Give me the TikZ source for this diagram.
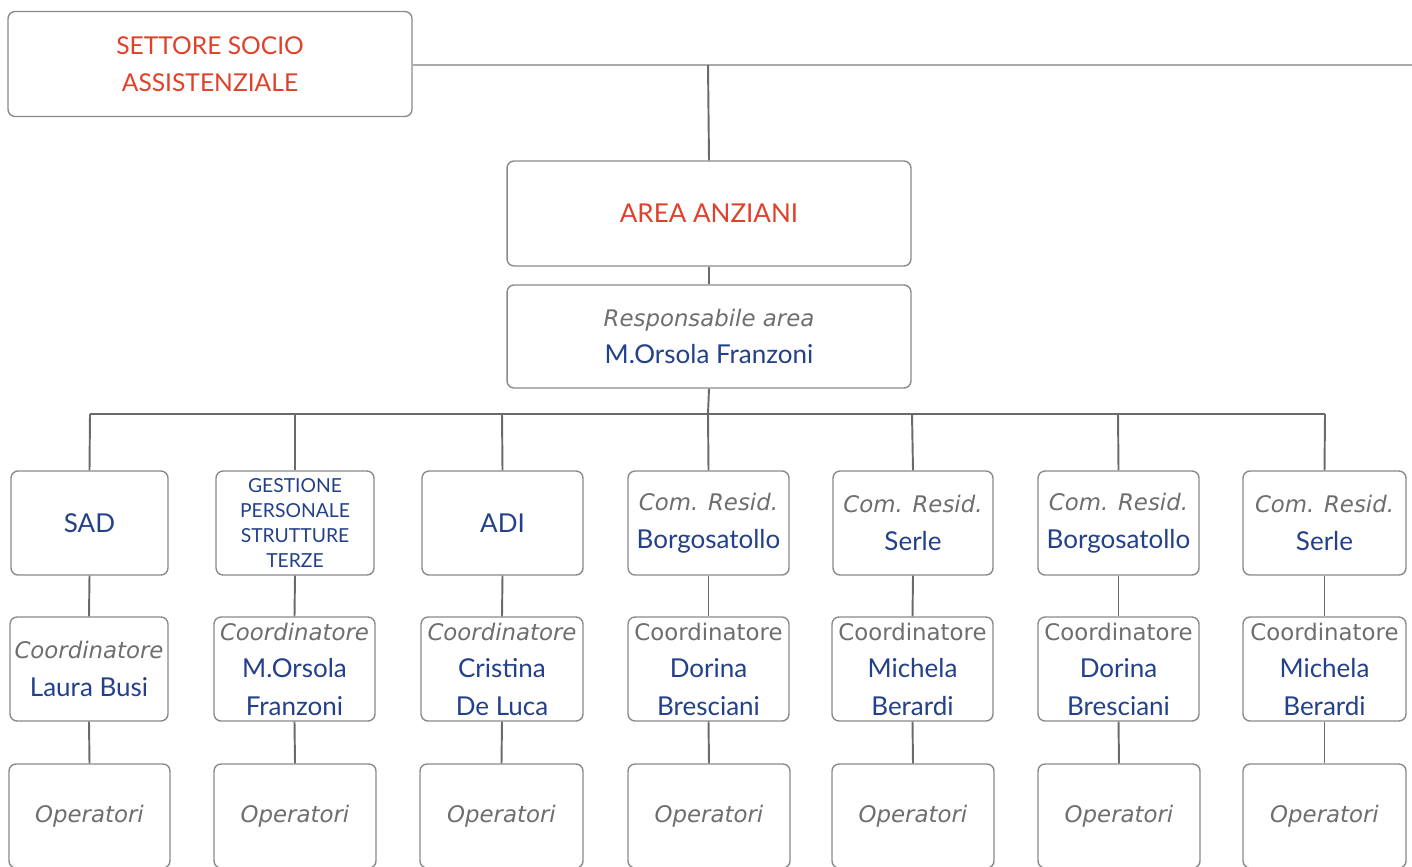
\documentclass[tikz,border=0pt]{standalone}
\usepackage{fontspec}
\setmainfont{Lato}
\newfontfamily\lbl{Lato}
\newfontfamily\gry{DejaVu Sans}
\definecolor{redc}{HTML}{E0412A}
\definecolor{bluec}{HTML}{23408A}
\definecolor{grayc}{HTML}{6E6E6E}
\definecolor{borderc}{HTML}{8A8A8A}
\definecolor{linec}{HTML}{6A6A6A}
\definecolor{toplinec}{HTML}{ABABAB}
\newcommand{\gi}[1]{{\color{grayc}\gry\itshape\fontsize{13}{21.3}\selectfont #1}}
\newcommand{\gu}[1]{{\color{grayc}\gry\fontsize{13}{21.3}\selectfont #1}}
\newcommand{\bl}[1]{{\color{bluec}\lbl\fontsize{14.8}{21.3}\selectfont #1}}
\tikzset{
  box/.style={draw=borderc, rounded corners=4pt, line width=0.8pt, fill=white,
    minimum width=3.2cm, minimum height=2.08cm, align=center, inner sep=0pt,
    font=\fontsize{14.8}{21.3}\selectfont},
  bigbox/.style={box, minimum width=8.08cm, minimum height=2.1cm},
  redtxt/.style={text=redc, font=\lbl\fontsize{14}{21.3}\selectfont},
  conn/.style={draw=linec, line width=1.1pt},
  topconn/.style={draw=toplinec, line width=1.2pt},
}
\begin{document}
\begin{tikzpicture}[x=0.02cm, y=-0.02cm]
\useasboundingbox (0,0) rectangle (1412,866);
\clip (0,0) rectangle (1412,866);
% top
\node[bigbox, redtxt] (set) at (210,64) {SETTORE SOCIO\\ASSISTENZIALE};
\node[bigbox, redtxt, font=\lbl\fontsize{14.8}{21.3}\selectfont] (area) at (709,213.5) {AREA ANZIANI};
\node[bigbox, minimum height=2.06cm] (resp) at (709,336.5) {\gi{Responsabile area}\\\bl{M.Orsola Franzoni}};
\coordinate (re) at (1412,65);
\coordinate (j) at (708,65);
\coordinate (bus) at (708,414);
\draw[topconn] (set.east |- re) -- (re);
\draw[conn] (j) -- (area.north);
\draw[conn] (area.south) -- (resp.north);
\draw[conn] (resp.south) -- (bus);
% bus
\coordinate (b1) at (90,414);
\coordinate (b2) at (295,414);
\coordinate (b3) at (502,414);
\coordinate (b4) at (708,414);
\coordinate (b5) at (912,414);
\coordinate (b6) at (1118,414);
\coordinate (b7) at (1325,414);
\draw[conn] (b1) -- (b7);
% row 1
\node[box, minimum width=3.14cm] (r11) at (89.5,523) {\bl{SAD}};
\node[box, minimum width=3.16cm, text=bluec, font=\lbl\fontsize{11}{14.4}\selectfont] (r12) at (295,523) {GESTIONE\\PERSONALE\\STRUTTURE\\TERZE};
\node[box, minimum width=3.22cm] (r13) at (502.5,523) {\bl{ADI}};
\node[box, minimum width=3.22cm] (r14) at (708.5,523) {\gi{Com. Resid.}\\\bl{Borgosatollo}};
\node[box, minimum width=3.2cm] (r15) at (913,523) {\gi{Com. Resid.}\\\bl{Serle}};
\node[box, minimum width=3.22cm] (r16) at (1118.5,523) {\gi{Com. Resid.}\\\bl{Borgosatollo}};
\node[box, minimum width=3.26cm] (r17) at (1324.5,523) {\gi{Com. Resid.}\\\bl{Serle}};
% row 2
\node[box, minimum width=3.16cm] (r21) at (89,669) {\gi{Coordinatore}\\\bl{Laura Busi}};
\node[box, minimum width=3.22cm] (r22) at (294.5,669) {\gi{Coordinatore}\\\bl{M.Orsola}\\\bl{Franzoni}};
\node[box, minimum width=3.24cm] (r23) at (502,669) {\gi{Coordinatore}\\\bl{Cristina}\\\bl{De Luca}};
\node[box, minimum width=3.22cm] (r24) at (708.5,669) {\gu{Coordinatore}\\\bl{Dorina}\\\bl{Bresciani}};
\node[box, minimum width=3.22cm] (r25) at (912.5,669) {\gu{Coordinatore}\\\bl{Michela}\\\bl{Berardi}};
\node[box, minimum width=3.22cm] (r26) at (1118.5,669) {\gu{Coordinatore}\\\bl{Dorina}\\\bl{Bresciani}};
\node[box, minimum width=3.26cm] (r27) at (1324.5,669) {\gu{Coordinatore}\\\bl{Michela}\\\bl{Berardi}};
% row 3
\node[box, minimum width=3.22cm] (r31) at (89.5,816) {\gi{Operatori}};
\node[box, minimum width=3.24cm] (r32) at (295,816) {\gi{Operatori}};
\node[box, minimum width=3.26cm] (r33) at (501.5,816) {\gi{Operatori}};
\node[box, minimum width=3.24cm] (r34) at (709,816) {\gi{Operatori}};
\node[box, minimum width=3.24cm] (r35) at (913,816) {\gi{Operatori}};
\node[box, minimum width=3.24cm] (r36) at (1119,816) {\gi{Operatori}};
\node[box, minimum width=3.26cm] (r37) at (1324.5,816) {\gi{Operatori}};
% connectors
\foreach \i in {1,...,7} {
  \draw[conn] (b\i) -- (r1\i.north);
  \draw[conn] (r1\i.south) -- (r2\i.north);
  \draw[conn] (r2\i.south) -- (r3\i.north);
}
\end{tikzpicture}
\end{document}
